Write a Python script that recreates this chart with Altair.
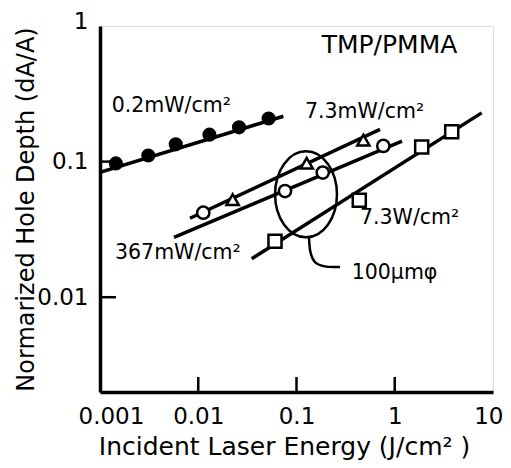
import altair as alt
import pandas as pd

# ---------------- data ----------------
filled_x = [0.00145, 0.0031, 0.0059, 0.013, 0.026, 0.052]
filled_y = [0.097, 0.111, 0.134, 0.158, 0.179, 0.208]

tri_x = [0.0224, 0.127, 0.479]
tri_y = [0.0524, 0.0972, 0.144]

open_x = [0.01125, 0.0764, 0.185, 0.765]
open_y = [0.042, 0.0607, 0.083, 0.1305]

sq_x = [0.0604, 0.4355, 1.88, 3.80]
sq_y = [0.0259, 0.0518, 0.128, 0.166]

# fitted straight lines (end points)
fit_series = ["filled", "filled", "tri", "tri", "open", "open", "sq", "sq"]
fit_x = [0.001, 0.0735, 0.00824, 0.708, 0.00566, 1.186, 0.035, 7.67]
fit_y = [0.0834, 0.216, 0.0382, 0.173, 0.0276, 0.1414, 0.0192, 0.2288]

# ellipse (100 um spot) annotation and its callout curve
ell_x = [0.125]
ell_y = [0.0574]
call_x = [0.134, 0.139, 0.277]
call_y = [0.0276, 0.0166, 0.0167]

labels = ["0.2mW/cm²", "7.3mW/cm²", "7.3W/cm²", "367mW/cm²", "100μmφ", "TMP/PMMA"]
label_x = [0.001315, 0.122, 0.443, 0.001422, 0.3648, 0.1805]
label_y = [0.2327, 0.208, 0.0344, 0.0192, 0.01367, 0.6285]
label_size = [20.5, 20.5, 20.5, 20.5, 20.5, 25]

x_ticks = [0.001, 0.01, 0.1, 1, 10]
y_ticks = [0.01, 0.1, 1]
x_inner_ticks = [0.01, 0.1, 1]
y_inner_ticks = [0.01, 0.1]

# ---------------- chart ----------------
W, H = 393, 366
FONT = "DejaVu Sans"

xs = alt.Scale(type="log", domain=[0.001, 10], nice=False)
ys = alt.Scale(type="log", domain=[0.002, 1], nice=False)

xaxis = alt.Axis(
    values=x_ticks, format="~g", ticks=False, grid=False,
    domainColor="black", domainWidth=3.5,
    labelFont=FONT, labelFontSize=23, labelColor="black", labelPadding=13,
    labelFlush=True, labelFlushOffset=10, labelOverlap=False,
    labelOffset={"condition": {"test": "datum.value < 0.005", "value": -12}, "value": 0},
    title="Incident Laser Energy (J/cm² )", titleFont=FONT, titleFontSize=25,
    titleFontWeight="normal", titleColor="black",
    titleX=184, titleY=62, titleBaseline="alphabetic", titleAlign="center",
)
yaxis = alt.Axis(
    values=y_ticks, format="~g", ticks=False, grid=False,
    domainColor="black", domainWidth=3.5,
    labelFont=FONT, labelFontSize=23, labelColor="black", labelPadding=12,
    labelFlush=False, labelOverlap=False,
    labelOffset={"condition": {"test": "datum.value > 0.5", "value": -5}, "value": 0},
    title="Normarized Hole Depth (dA/A)", titleFont=FONT, titleFontSize=24,
    titleFontWeight="normal", titleColor="black",
    titleX=-67, titleY=H / 2, titleBaseline="alphabetic", titleAlign="center", titleAngle=-90,
)


def X():
    return alt.X("x:Q", scale=xs, axis=xaxis)


def Y():
    return alt.Y("y:Q", scale=ys, axis=yaxis)


fit_df = pd.DataFrame({"s": fit_series, "x": fit_x, "y": fit_y})
lines = alt.Chart(fit_df).mark_line(color="black", strokeWidth=3.5, clip=True).encode(
    x=X(), y=Y(), detail="s:N"
)

filled = alt.Chart(pd.DataFrame({"x": filled_x, "y": filled_y})).mark_point(
    shape="circle", filled=True, color="black", size=200, opacity=1
).encode(x=X(), y=Y())

tri = alt.Chart(pd.DataFrame({"x": tri_x, "y": tri_y})).mark_point(
    shape="triangle-up", filled=True, fill="white", stroke="black", strokeWidth=2.5, size=150, opacity=1
).encode(x=X(), y=Y())

opn = alt.Chart(pd.DataFrame({"x": open_x, "y": open_y})).mark_point(
    shape="circle", filled=True, fill="white", stroke="black", strokeWidth=2.5, size=150, opacity=1
).encode(x=X(), y=Y())

sq = alt.Chart(pd.DataFrame({"x": sq_x, "y": sq_y})).mark_point(
    shape="square", filled=True, fill="white", stroke="black", strokeWidth=2.5, size=170, opacity=1
).encode(x=X(), y=Y())

ell = alt.Chart(pd.DataFrame({"x": ell_x, "y": ell_y})).mark_point(
    shape="M 0 -1 A 0.72 1 0 1 1 0 1 A 0.72 1 0 1 1 0 -1 Z",
    filled=False, stroke="black", strokeWidth=2.5, size=7396, opacity=1
).encode(x=X(), y=Y())

callout = alt.Chart(pd.DataFrame({"x": call_x, "y": call_y, "o": [0, 1, 2]})).mark_line(
    color="black", strokeWidth=2.5, interpolate="basis"
).encode(x=X(), y=Y(), order="o:Q")

texts = alt.Chart(pd.DataFrame({"t": labels, "x": label_x, "y": label_y, "fs": label_size})).mark_text(
    font=FONT, align="left", baseline="alphabetic", color="black"
).encode(x=X(), y=Y(), text="t:N", size=alt.Size("fs:Q", scale=None))

xt = alt.Chart(pd.DataFrame({"x": x_inner_ticks})).mark_rule(color="black", strokeWidth=2.5).encode(
    x=X(), y=alt.value(H), y2=alt.value(H - 15)
)
yt = alt.Chart(pd.DataFrame({"y": y_inner_ticks})).mark_rule(color="black", strokeWidth=2.5).encode(
    y=Y(), x=alt.value(0), x2=alt.value(16)
)

chart = alt.layer(lines, filled, tri, opn, sq, ell, callout, texts, xt, yt).properties(
    width=W, height=H,
    autosize=alt.AutoSizeParams(type="none"),
    padding={"left": 92, "top": 18, "right": 10, "bottom": 68},
).configure_view(stroke="black", strokeWidth=2.5).configure(background="white")

chart.save("out.html", embed_options={"renderer": "svg", "actions": False})
